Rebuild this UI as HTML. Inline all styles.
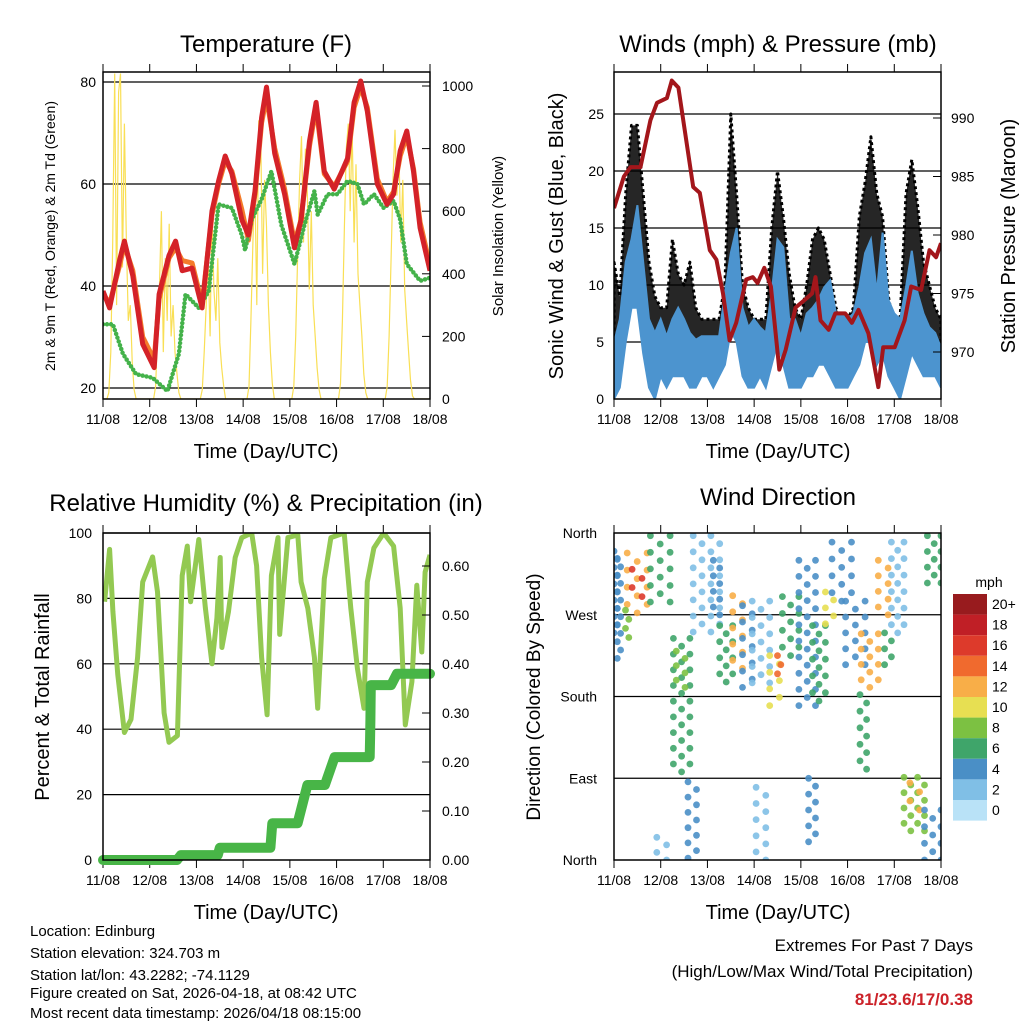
<!DOCTYPE html>
<html><head><meta charset="utf-8">
<style>
body{margin:0;background:#fff;}
svg{display:block;font-family:"Liberation Sans",sans-serif;}
</style></head>
<body>
<svg id="chart" width="1024" height="1024" viewBox="0 0 1024 1024">
<defs>
<clipPath id="c1"><rect x="103" y="72" width="327" height="327"/></clipPath>
<clipPath id="c2"><rect x="614" y="72" width="327" height="327"/></clipPath>
<clipPath id="c3"><rect x="103" y="533" width="327" height="327"/></clipPath>
<clipPath id="c4"><rect x="614" y="533" width="327" height="327"/></clipPath>
</defs>
<g id="layer"></g>
<text x="266" y="52" font-size="24" text-anchor="middle">Temperature (F)</text>
<text x="778" y="52" font-size="24" text-anchor="middle">Winds (mph) &amp; Pressure (mb)</text>
<text x="266" y="511" font-size="24" text-anchor="middle">Relative Humidity (%) &amp; Precipitation (in)</text>
<text x="778" y="505" font-size="24" text-anchor="middle">Wind Direction</text>
<text x="266" y="458" font-size="20" text-anchor="middle">Time (Day/UTC)</text>
<text x="778" y="458" font-size="20" text-anchor="middle">Time (Day/UTC)</text>
<text x="266" y="919" font-size="20" text-anchor="middle">Time (Day/UTC)</text>
<text x="778" y="919" font-size="20" text-anchor="middle">Time (Day/UTC)</text>
<text transform="translate(55,236) rotate(-90)" font-size="14" text-anchor="middle">2m &amp; 9m T (Red, Orange) &amp; 2m Td (Green)</text>
<text transform="translate(503,236) rotate(-90)" font-size="15" text-anchor="middle">Solar Insolation (Yellow)</text>
<text transform="translate(563,236) rotate(-90)" font-size="20" text-anchor="middle">Sonic Wind &amp; Gust (Blue, Black)</text>
<text transform="translate(1015,236) rotate(-90)" font-size="20" text-anchor="middle">Station Pressure (Maroon)</text>
<text transform="translate(49,697) rotate(-90)" font-size="20" text-anchor="middle">Percent &amp; Total Rainfall</text>
<text transform="translate(540,697) rotate(-90)" font-size="19" text-anchor="middle">Direction (Colored By Speed)</text>
<g font-size="15">
<text x="30" y="936">Location: Edinburg</text>
<text x="30" y="958">Station elevation: 324.703 m</text>
<text x="30" y="980">Station lat/lon: 43.2282; -74.1129</text>
<text x="30" y="998">Figure created on Sat, 2026-04-18, at 08:42 UTC</text>
<text x="30" y="1018">Most recent data timestamp: 2026/04/18 08:15:00</text>
</g>
<text x="973" y="951" font-size="17" text-anchor="end">Extremes For Past 7 Days</text>
<text x="973" y="977" font-size="17" text-anchor="end">(High/Low/Max Wind/Total Precipitation)</text>
<text x="973" y="1005" font-size="17" font-weight="bold" fill="#cc2229" text-anchor="end">81/23.6/17/0.38</text>
</svg>
<script>
const dayLabels = ["11/08","12/08","13/08","14/08","15/08","16/08","17/08","18/08"];
const tempHours = [0,3.4,8.5,11,15.3,20.4,26.3,28.8,33.9,37.3,40.7,45.8,50.9,56,59.4,62.8,66.2,71.3,74.7,78.1,81.5,84,88.2,93.3,98.4,101.8,106.1,109.5,113.7,118.8,125.6,129,132.4,135.8,140.9,145.9,149.3,152.7,156.1,159.5,162.9,168];
const temp2m = [39,35.7,45,48.8,42,28.6,24,38.4,46,48.8,43,43.5,35.7,54.7,60.6,65.5,62,53,50,58.6,73,79,66,58,47.5,53,68.4,76,62.5,59,65,76,80.2,74.3,60,56,58,66.5,70.4,62.5,51.4,43];
const temp9m = [38.5,36.5,44,48,43,30,25.5,37.5,45.5,47.5,45,44.5,36.5,54,60,64.5,62.5,55,49,58,72,77,67,59,48.5,53,67.5,75,62,59.5,64.5,75,79,75,61,56.5,58.5,65.5,69.5,63,52.5,44];
const dewHours = [0,5.1,10.2,17,25.5,33.1,39,42.4,49.2,54.3,59.4,66.2,71.3,73,76.4,81.5,86.5,91.6,98.4,103.5,108.6,110.3,115.4,120.5,125.6,130.7,134.1,139.2,144.2,149.3,152.7,156.1,162.9,168];
const dewF = [32.5,32.5,26.7,22.7,22,19.4,26.7,38.4,35.7,39,56,55.3,50,47,53,57,62.5,52,44.3,52,58.6,54,58,58,60.6,60,56,58,55.3,56.7,53,44.3,41,41.6];
const solarW = [0,0,0,20,150,500,1040,300,980,1040,420,880,500,250,300,120,30,0,0,0,0,0,0,0,0,0,0,40,200,350,600,150,450,250,560,200,300,150,80,20,0,0,0,0,0,0,0,0,0,0,0,30,150,300,450,200,600,350,250,450,180,100,40,0,0,0,0,0,0,0,0,0,0,0,0,40,250,500,700,300,890,850,400,700,550,300,150,50,0,0,0,0,0,0,0,0,0,0,40,200,450,700,840,500,800,650,350,600,300,200,100,30,0,0,0,0,0,0,0,0,0,0,50,250,550,800,880,600,870,500,750,400,300,200,80,20,0,0,0,0,0,0,0,0,0,0,40,200,450,700,860,650,800,500,700,350,250,150,60,10,0,0,0,0,0,0,0,0,0];
const windHours = [0,3,6,9,12,15,18,21,24,27,30,33,36,39,42,45,48,51,54,57,60,63,66,69,72,75,78,81,84,87,90,93,96,99,102,105,108,111,114,117,120,123,126,129,132,135,138,141,144,147,150,153,156,159,162,165,168];
const windHi = [4.9,7,12,14,17,12,7,5.8,7,5.5,7,8,7,5.8,5.2,5.5,5.5,5.5,5.5,9.3,12.8,15,8,6.3,7,6.3,5.8,9.3,14,13.3,7,7,5.5,7.5,8,8.7,9.8,10.4,7.5,7.5,7,7.5,9.8,12.8,14,9.3,14.6,8.7,7.5,7,9.8,13,9.3,7.5,6.3,5.8,4.5];
const windLo = [0,1,5,8,8,4,1,0,2,1,2,2,2,1,1,2,2,1,2,3,6,5,2,1,1,2,1,3,5,3,1,1,1,2,2,3,3,2,1,1,1,2,3,5,5,3,4,2,1,0,2,4,3,2,2,2,1];
const gustHi = [12,9,18,24,24,18,12,9,8,8,14,11,10,12,8,7,7,7,7,10,25,18,10,8,7,7,7,15,20,16,11,8,7,10,14,15,14,11,8,7,7,8,16,19,23,18,16,9,6,7,18,21,17,12,10,8,7];
const presHours = [0,5.1,8.5,13.6,18.7,22.1,27.2,29.7,33.1,40.7,44.1,49.2,52.6,56,59.4,62.8,67.9,71.3,73.8,77.2,80.6,84.9,88.2,93.3,97.6,101.8,103.5,106.1,110.3,113.7,118.8,122.2,125.6,130.7,135.8,138.3,144.2,149.3,152.7,157.8,162.1,165.5,168];
const presMb = [982.3,985,985.8,985.8,989.8,991.3,991.7,993.2,992.6,984.1,983.6,978.7,977.9,975,971,972.5,976.2,976.4,975.9,977.2,975.6,968.5,970.2,973.8,974.4,975,976.4,972.7,971.9,973.3,973.3,972.5,973.6,971.6,967,970.4,970.4,972.7,975.6,975.3,978.7,978.1,979.3];
const rhHours = [0.8,3.4,5.1,7.6,11,14.4,17.8,20.4,25.5,28,31.4,33.9,38.2,40.7,43.3,45,49.2,52.6,56,58.5,60.2,61.1,64.5,67.9,71.3,76.4,78.9,81.5,84.3,86.5,89.9,90.8,95,100.1,101.8,105.2,108.6,110.3,113.7,117.1,123.9,127.3,130.7,134.1,135.8,139.2,144.2,149.3,152.7,155.3,158.7,161.2,163.8,165.5,168];
const rhPct = [79,95,76,56.6,39,43,62,85,92.7,82,45,36,38,87,96,79,98,77,60,74,92.5,65,76,92.5,98.6,100,90,62,44.4,87,98.6,69,98.6,99.4,85,77,62,46.4,86,98.6,100,77,58.6,46.4,85,95.4,100,96,77,41.3,54.5,84,63.6,88,93.3];
const precipHours = [0,38,40,59,60,86,87,100,105,114,119,137,137.2,137.4,137.6,148,151,168];
const precipIn = [0,0,0.01,0.01,0.025,0.025,0.075,0.075,0.153,0.153,0.21,0.21,0.25,0.286,0.357,0.357,0.38,0.38];
// wind direction observation clusters: start hour, end hour, high deg, low deg, speed (mph)
const dirH0 = [1.7,6.8,9.3,5.9,18.7,30.5,32,38,40.7,51,54.3,61,66,71,80,84,86.5,95,102,108.6,112,119,127,126.4,135.8,139,142.5,149,152,159.5,161,73,100,22,0];
const dirH1 = [3.4,17,14.4,7.6,28.8,39,36.5,42.4,54.3,54.3,61,66,71,80,85,85.7,95,103.5,108.6,112.8,122,129,135.8,129.8,140.8,142.5,149,159.5,157,168,168,78,103.5,27,1.7];
const dirD0 = [332,338,320,275,357,244,230,86,357,330,258,291,280,285,225,225,290,330,258,295,350,285,249,182,330,250,350,91,85,55,357,80,90,25,340];
const dirD1 = [222,272,290,245,284,97,190,2,251,270,196,211,190,195,170,205,225,170,175,260,285,215,190,100,270,215,250,32,55,0,305,0,20,0,250];
const dirSpd = [3,12,16,7,5,5,7,3,2,4,5,11,4,2,9,14,6,3,6,9,4,4,12,6,11,6,2,7,12,4,5,2,4,2,3];
const speedBins = ["0","2","4","6","8","10","12","14","16","18","20+"];
const speedColors = ["#b9e2f7","#80bfe6","#4a8fc6","#3fa56a","#7cc142","#e7df52","#f8ae48","#f06a2e","#dd3a2b","#c01f26","#981b1e"];
const leftTemp = [20,40,60,80], rightSolar = [0,200,400,600,800,1000];
const leftWind = [0,5,10,15,20,25], rightPres = [970,975,980,985,990];
const leftRh = [0,20,40,60,80,100], rightPrecip = ["0.00","0.10","0.20","0.30","0.40","0.50","0.60"];
const dirTicks = [0,90,180,270,360], dirTickLabels = ["North","East","South","West","North"];

const NS="http://www.w3.org/2000/svg";
const layer=document.getElementById('layer');
function mk(tag,attrs,parent){const e=document.createElementNS(NS,tag);for(const k in attrs)e.setAttribute(k,attrs[k]);(parent||layer).appendChild(e);return e;}
const W=327;
function tx(x0,h){return x0+h/168*W;}
const yT=v=>388-(v-20)*5.1, yS=v=>399-v*0.313;
const yW=v=>399-v*11.4, yP=v=>352-(v-970)*11.7;
const yR=v=>860-v*3.27, yQ=v=>860-v*490;
const yD=v=>860-v*327/360;
function pts(x0,hs,vs,f){return hs.map((h,i)=>tx(x0,h).toFixed(1)+','+f(vs[i]).toFixed(1)).join(' ');}

function frame(x0,y0,name,grid,fy){
  const g=mk('g',{});
  
  
  grid.forEach(v=>{const y=fy(v);const l=mk('line',{x1:x0,x2:x0+W,y1:y,y2:y,stroke:'#000','stroke-width':1.2},g);
    
    });
  for(let d=0;d<=7;d++){const x=x0+d*W/7;
    mk('line',{x1:x,x2:x,y1:y0+W,y2:y0+W+8,stroke:'#000','stroke-width':1},g);
    mk('line',{x1:x,x2:x,y1:y0-8,y2:y0,stroke:'#000','stroke-width':1},g);
    const t=mk('text',{x:x,y:y0+W+25,'font-size':14,'text-anchor':'middle'},g);t.textContent=dayLabels[d];
    
    }
  return g;
}
function border(x0,y0,name){const r=mk('rect',{x:x0,y:y0,width:W,height:W,fill:'none',stroke:'#000','stroke-width':1.5});
  
  }
function ylab(x,y,s,anchor){const t=mk('text',{x:x,y:y+5,'font-size':14,'text-anchor':anchor});t.textContent=s;
  
  
  return t;}

// Panel 1 temperature
frame(103,72,'temperature',leftTemp,yT);
let g1=mk('g',{'clip-path':'url(#c1)'});


let sp=mk('polyline',{points:solarW.map((v,i)=>tx(103,i).toFixed(1)+','+yS(v).toFixed(1)).join(' '),fill:'none',stroke:'#f9df55','stroke-width':1.2},g1);


let o=mk('polyline',{points:pts(103,tempHours,temp9m,yT),fill:'none',stroke:'#f47b2a','stroke-width':5,'stroke-linejoin':'round'},g1);


let dw=mk('polyline',{points:pts(103,dewHours,dewF,yT),fill:'none',stroke:'#44b24a','stroke-width':4.5,'stroke-linecap':'round','stroke-dasharray':'0 4','stroke-linejoin':'round'},g1);


let rd=mk('polyline',{points:pts(103,tempHours,temp2m,yT),fill:'none',stroke:'#d42228','stroke-width':5,'stroke-linejoin':'round'},g1);


border(103,72,'temperature');
leftTemp.forEach(v=>ylab(96,yT(v),String(v),'end'));
rightSolar.forEach(v=>{mk('line',{x1:430,x2:422,y1:yS(v),y2:yS(v),stroke:'#000'});ylab(442,yS(v),String(v),'start');});

// Panel 2 winds
frame(614,72,'winds',leftWind.slice(1),yW);
let g2=mk('g',{'clip-path':'url(#c2)'});


const lowPts=windHours.map((h,i)=>tx(614,h).toFixed(1)+','+yW(windLo[i]).toFixed(1)).reverse().join(' ');
const midPts=windHours.map((h,i)=>tx(614,h).toFixed(1)+','+yW(windHi[i]*0.85).toFixed(1)).reverse().join(' ');
let gu=mk('polygon',{points:pts(614,windHours,gustHi,yW)+' '+midPts,fill:'#000','fill-opacity':0.85,stroke:'#000','stroke-width':3,'stroke-linejoin':'round','stroke-dasharray':'3 3'},g2);


let bl=mk('polygon',{points:pts(614,windHours,windHi,yW)+' '+lowPts,fill:'#4c94cf',stroke:'#4c94cf','stroke-width':2},g2);


let pr=mk('polyline',{points:pts(614,presHours,presMb,yP),fill:'none',stroke:'#a3161b','stroke-width':4,'stroke-linejoin':'round'},g2);


border(614,72,'winds');
leftWind.forEach(v=>ylab(604,yW(v),String(v),'end'));
rightPres.forEach(v=>{mk('line',{x1:941,x2:933,y1:yP(v),y2:yP(v),stroke:'#000'});ylab(951,yP(v),String(v),'start');});

// Panel 3 RH
frame(103,533,'humidity',leftRh.slice(1),yR);
let g3=mk('g',{'clip-path':'url(#c3)'});


let rh=mk('polyline',{points:pts(103,rhHours,rhPct,yR),fill:'none',stroke:'#93c952','stroke-width':5,'stroke-linejoin':'round'},g3);


let pc=mk('polyline',{points:pts(103,precipHours,precipIn,yQ),fill:'none',stroke:'#48b547','stroke-width':10,'stroke-linecap':'round','stroke-linejoin':'round'},layer);


border(103,533,'humidity');
leftRh.forEach(v=>ylab(92,yR(v),String(v),'end'));
rightPrecip.forEach(s=>{const v=parseFloat(s);mk('line',{x1:430,x2:422,y1:yQ(v),y2:yQ(v),stroke:'#000'});ylab(442,yQ(v),s,'start');});

// Panel 4 direction
frame(614,533,'direction',[90,180,270],yD);
let g4=mk('g',{'clip-path':'url(#c4)'});


dirSpd.forEach((s,i)=>{
  const ci=Math.min(10,Math.round(s/2));
  const xa=tx(614,dirH0[i]), xb=tx(614,dirH1[i]);
  const ya=yD(dirD0[i]), yb=yD(dirD1[i]);
  const nx=Math.max(1,Math.round((xb-xa)/8)), ny=Math.max(1,Math.round((yb-ya)/8));
  for(let a=0;a<=nx;a++)for(let b=0;b<=ny;b++){
    if((a+b)%2===1)continue;
    const c=mk('circle',{cx:(xa+(xb-xa)*a/nx).toFixed(1),cy:(ya+(yb-ya)*b/ny).toFixed(1),r:3.4,fill:speedColors[ci],'fill-opacity':0.9},g4);
    
    
  }
});
border(614,533,'direction');
dirTicks.forEach((v,i)=>ylab(597,yD(v),dirTickLabels[i],'end'));
// colorbar
const cb=mk('g',{});


const lt=mk('text',{x:989,y:587,'font-size':14,'text-anchor':'middle'},cb);lt.textContent='mph';
speedBins.forEach((s,i)=>{
  const k=10-i, y=594+i*20.6;
  mk('rect',{x:953,y:y,width:34,height:20.6,fill:speedColors[k]},cb);
  const t=mk('text',{x:992,y:y+15,'font-size':14},cb);t.textContent=speedBins[k];
  
  
});
</script>
</body></html>
